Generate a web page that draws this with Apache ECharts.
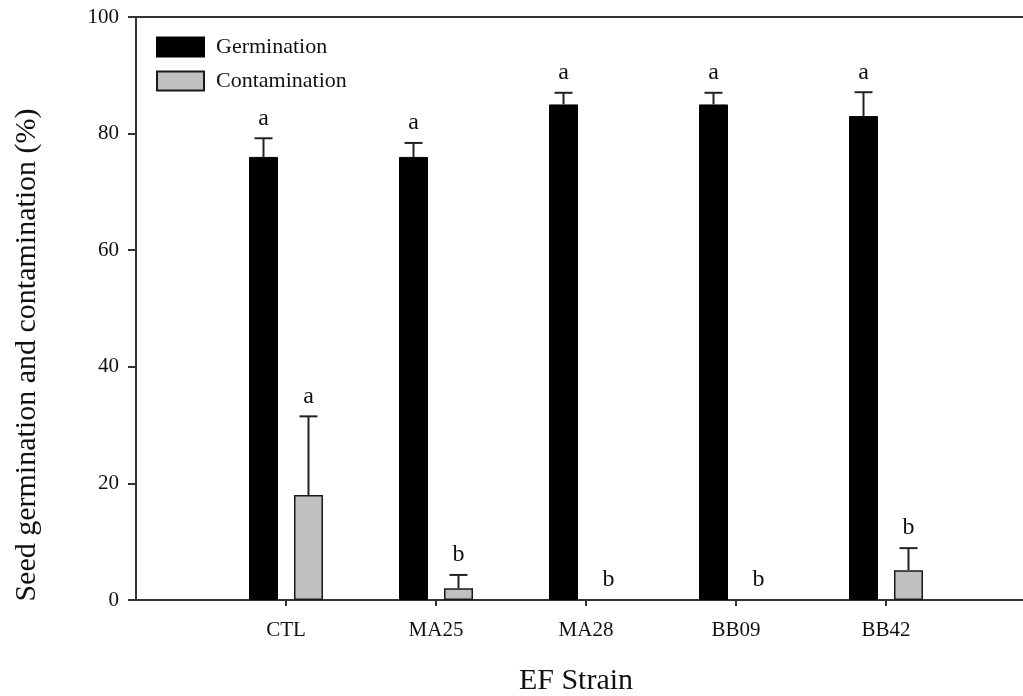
<!DOCTYPE html>
<html><head><meta charset="utf-8">
<script src="https://cdn.jsdelivr.net/npm/echarts@6/dist/echarts.min.js"></script>
<style>html,body{margin:0;padding:0;background:#fff}#c{width:1023px;height:696px}</style>
</head><body><div id="c"></div>
<script>
var categories = ['CTL', 'MA25', 'MA28', 'BB09', 'BB42'];
var germination = [76, 76, 85, 85, 83];
var germinationErr = [3.2, 2.4, 2, 2, 4.1];
var germinationLetters = ['a', 'a', 'a', 'a', 'a'];
var contamination = [18, 2, 0, 0, 5.1];
var contaminationErr = [13.5, 2.3, 0, 0, 3.8];
var contaminationLetters = ['a', 'b', 'b', 'b', 'b'];
var yTicks = [0, 20, 40, 60, 80, 100];
var xTitle = 'EF Strain';
var yTitle = 'Seed germination and contamination (%)';

var FONT = '"Liberation Serif", "DejaVu Serif", serif';
var BAR_W = 29, BAR_GAP = 16;
var axisData = [''].concat(categories, ['']);
function pad(arr) {
  return ['-'].concat(arr.map(function (v) { return v === 0 ? { value: 0, itemStyle: { borderWidth: 0 } } : v; }), ['-']);
}

function errData(vals, errs, letters, side) {
  return vals.map(function (v, i) { return [i + 1, v, errs[i], letters[i], side]; });
}
var errItems = errData(germination, germinationErr, germinationLetters, -1)
  .concat(errData(contamination, contaminationErr, contaminationLetters, 1));
function showInner(i) { return i > 0 && i < axisData.length - 1; }

var chart = echarts.init(document.getElementById('c'));
chart.setOption({
  animation: false,
  backgroundColor: '#fff',
  grid: { left: 136, top: 17, width: 900, height: 583, outerBoundsMode: 'none', containLabel: false,
          show: true, borderColor: '#333', borderWidth: 2, backgroundColor: 'transparent' },
  legend: {
    orient: 'vertical', left: 156, top: 36, padding: 0, itemWidth: 47, itemHeight: 19, itemGap: 12,
    icon: 'rect',
    data: ['Germination', 'Contamination'],
    textStyle: { fontFamily: FONT, fontSize: 22, color: '#111', padding: [0, 0, 0, 7] }
  },
  graphic: [
    { type: 'text', x: 576, y: 681, style: { text: xTitle, align: 'center', verticalAlign: 'middle', font: '30px ' + FONT, fill: '#111' } },
    { type: 'text', x: 27, y: 355, rotation: Math.PI / 2, style: { text: yTitle, align: 'center', verticalAlign: 'middle', font: '30px ' + FONT, fill: '#111' } }
  ],
  xAxis: {
    type: 'category', data: axisData, boundaryGap: false,
    axisLine: { lineStyle: { color: '#333', width: 2 } },
    axisTick: { length: 6, interval: showInner, lineStyle: { color: '#333', width: 2 } },
    axisLabel: { interval: showInner, margin: 20, fontFamily: FONT, fontSize: 21, color: '#111' },
    splitLine: { show: false }
  },
  yAxis: {
    type: 'value', min: yTicks[0], max: yTicks[yTicks.length - 1], interval: yTicks[1] - yTicks[0],
    axisLine: { show: true, lineStyle: { color: '#333', width: 2 } },
    axisTick: { show: true, length: 8, lineStyle: { color: '#333', width: 2 } },
    axisLabel: { margin: 17, fontFamily: FONT, fontSize: 21, color: '#111' },
    splitLine: { show: false }
  },
  series: [
    { name: 'Germination', type: 'bar', data: pad(germination), barWidth: BAR_W, barGap: (BAR_GAP / BAR_W * 100) + '%',
      itemStyle: { color: '#000', borderColor: '#000', borderWidth: 1 } },
    { name: 'Contamination', type: 'bar', data: pad(contamination), barWidth: BAR_W,
      itemStyle: { color: '#c0c0c0', borderColor: '#1a1a1a', borderWidth: 1.5 } },
    { name: 'err', type: 'custom', data: errItems, z: 5,
      renderItem: function (params, api) {
        var x = api.value(0), v = api.value(1), e = api.value(2), side = api.value(4);
        var letter = errItems[params.dataIndex][3];
        var off = side * (BAR_W + BAR_GAP) / 2;
        var base = api.coord([x, v]);
        var top = api.coord([x, v + e]);
        var cx = base[0] + off;
        var children = [];
        if (e > 0) {
          children.push({ type: 'line', shape: { x1: cx, y1: base[1], x2: cx, y2: top[1] }, style: { stroke: '#222', lineWidth: 2 } });
          children.push({ type: 'line', shape: { x1: cx - 9, y1: top[1], x2: cx + 9, y2: top[1] }, style: { stroke: '#222', lineWidth: 2 } });
        }
        children.push({ type: 'text', style: { text: letter, x: cx, y: top[1] - 20, align: 'center', verticalAlign: 'middle', font: '24px ' + FONT, fill: '#111' } });
        return { type: 'group', children: children };
      }
    }
  ]
});
</script></body></html>
